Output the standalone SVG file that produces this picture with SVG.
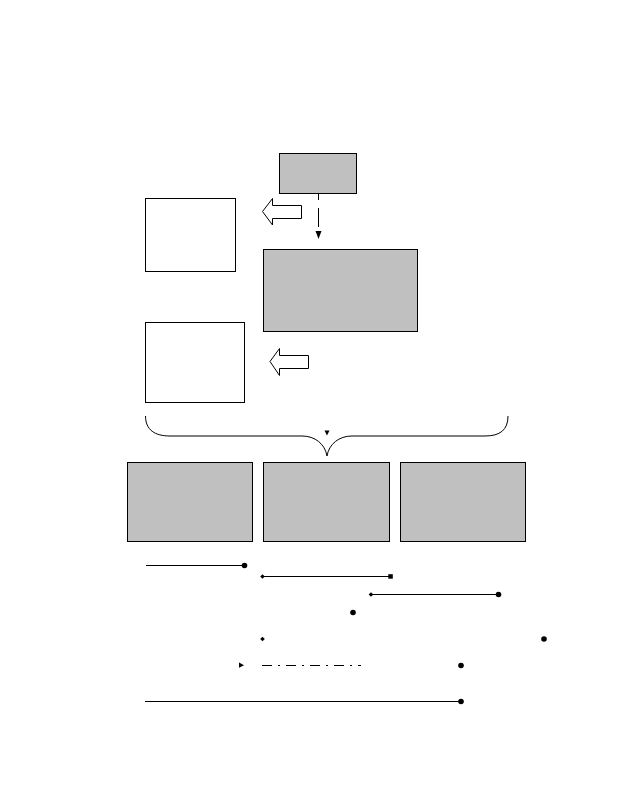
<svg xmlns="http://www.w3.org/2000/svg" width="618" height="800" viewBox="0 0 618 800">
<style>
.g{fill:#c0c0c0;stroke:#000;stroke-width:1}
.w{fill:#fff;stroke:#000;stroke-width:1}
.ln{fill:none;stroke:#000;stroke-width:1}
.m{fill:#000;stroke:none}
</style>
<rect width="618" height="800" fill="#fff"/>
<g id="node-top"><rect class="g" x="279.5" y="153.5" width="77" height="40"/></g>
<g id="node-left1"><rect class="w" x="145.5" y="198.5" width="90" height="73"/></g>
<g id="node-center"><rect class="g" x="263.5" y="249.5" width="154" height="82"/></g>
<g id="node-left2"><rect class="w" x="145.5" y="322.5" width="99" height="80"/></g>
<g id="node-b1"><rect class="g" x="127.5" y="462.5" width="125" height="79"/></g>
<g id="node-b2"><rect class="g" x="263.5" y="462.5" width="126" height="79"/></g>
<g id="node-b3"><rect class="g" x="400.5" y="462.5" width="125" height="79"/></g>
<g id="block-arrow1"><polygon class="w" points="262.5,211.5 272.5,198.5 272.5,205.5 301.5,205.5 301.5,218.5 272.5,218.5 272.5,225"/></g>
<g id="block-arrow2"><polygon class="w" points="270,361.5 279.5,348.5 279.5,355.5 308.5,355.5 308.5,368.5 279.5,368.5 279.5,375.5"/></g>
<g id="brace"><path class="ln" d="M145.5,416 C145.5,430 155,436 170,436 L302,436 C315,436 325,444 327,456 C329,444 339,436 352,436 L485,436 C500,436 508,430 508,416"/><polygon class="m" points="324.5,430.5 329.5,430.5 327,435.5"/></g>
<g id="connectors">
<path class="ln" d="M318.5,193V200M318.5,208V227"/>
<polygon class="m" points="315.5,231 321.5,231 318.5,239"/>
<line class="ln" x1="146" y1="565.5" x2="244" y2="565.5"/>
<circle class="m" cx="244.5" cy="565.5" r="2.8"/>
<line class="ln" x1="262.5" y1="576.5" x2="390" y2="576.5"/>
<polygon class="m" points="262.5,574.2 264.8,576.5 262.5,578.8 260.2,576.5"/>
<rect class="m" x="388.3" y="574.2" width="4.5" height="4.5"/>
<line class="ln" x1="371" y1="594.5" x2="498" y2="594.5"/>
<polygon class="m" points="371,592.2 373.3,594.5 371,596.8 368.7,594.5"/>
<circle class="m" cx="498.5" cy="594.5" r="2.8"/>
<circle class="m" cx="353" cy="612.5" r="2.8"/>
<polygon class="m" points="262.5,636.7 264.8,639 262.5,641.3 260.2,639"/>
<circle class="m" cx="544" cy="639" r="2.8"/>
<polygon class="m" points="239,662.5 244,665.2 239,667.8"/>
<line class="ln" x1="262" y1="665.5" x2="361" y2="665.5" stroke-dasharray="10 6 2 6"/>
<circle class="m" cx="461" cy="665.5" r="2.8"/>
<line class="ln" x1="145" y1="701.5" x2="460" y2="701.5"/>
<circle class="m" cx="461" cy="701.5" r="2.8"/>
</g>
</svg>
